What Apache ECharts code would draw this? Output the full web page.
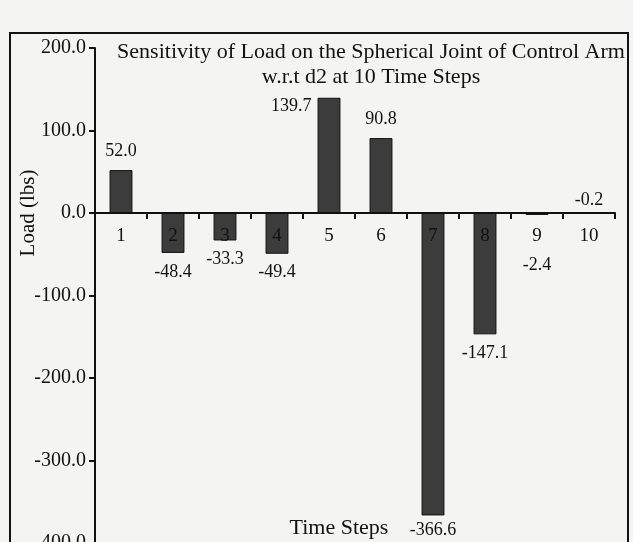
<!DOCTYPE html>
<html>
<head>
<meta charset="utf-8">
<script src="https://cdn.jsdelivr.net/npm/echarts@6/dist/echarts.min.js"></script>
<style>
  html, body { margin: 0; padding: 0; background: #f4f4f2; }
  #container { width: 633px; height: 542px; }
</style>
</head>
<body>
<div id="container"></div>
<script>
var dom = document.getElementById("container");
var myChart = echarts.init(dom);
var option;

var timeSteps = ["1", "2", "3", "4", "5", "6", "7", "8", "9", "10"];
var loadValues = [52.0, -48.4, -33.3, -49.4, 139.7, 90.8, -366.6, -147.1, -2.4, -0.2];
var yTicks = [-400, -300, -200, -100, 0, 100, 200];

var serif = "Liberation Serif";
var gridTop = 48, gridBottomY = 543;
// pixel distance from the bottom of the plot up to the zero line
var zeroOffset = (gridBottomY - gridTop) * (0 - yTicks[0]) / (yTicks[yTicks.length - 1] - yTicks[0]);

// labels sit above positive bars and below negative ones;
// a few are moved out of the way of the title and the category text
var barData = loadValues.map(function (v, i) {
    var lab = { position: v >= 0 ? "top" : "bottom", distance: 10 };
    if (i === 4) { lab.position = [-6, 9]; lab.align = "right"; lab.verticalAlign = "middle"; }
    if (i === 6) lab.distance = 6;
    if (i === 8) lab.distance = 41;
    if (i === 9) { lab.position = "top"; lab.distance = 3; }
    return { value: v, label: lab };
});

option = {
    backgroundColor: "#f4f4f2",
    animation: false,
    title: {
        text: "Sensitivity of Load on the Spherical Joint of Control Arm\nw.r.t d2 at 10 Time Steps",
        left: 366,
        top: 35,
        textAlign: "center",
        textStyle: {
            fontFamily: serif,
            fontSize: 22,
            fontWeight: "normal",
            color: "#111",
            lineHeight: 25,
        },
    },
    grid: {
        left: 95,
        right: 18,
        top: gridTop,
        bottom: 542 - gridBottomY,
        containLabel: false,
        outerBoundsMode: "none",
    },
    xAxis: {
        type: "category",
        data: timeSteps,
        position: "bottom",
        offset: -zeroOffset,
        z: 5,
        axisLine: { onZero: false, lineStyle: { color: "#111", width: 2 } },
        axisTick: { show: true, length: 6, lineStyle: { color: "#111", width: 2 } },
        axisLabel: {
            margin: 14,
            fontFamily: serif,
            fontSize: 19,
            color: "#111",
        },
        splitLine: { show: false },
    },
    yAxis: {
        type: "value",
        min: yTicks[0],
        max: yTicks[yTicks.length - 1],
        interval: 100,
        axisLine: { show: true, lineStyle: { color: "#111", width: 2 } },
        axisTick: { show: true, length: 6, lineStyle: { color: "#111", width: 2 } },
        axisLabel: {
            margin: 9,
            fontFamily: serif,
            fontSize: 20,
            color: "#111",
            formatter: function (v) { return v.toFixed(1); },
        },
        splitLine: { show: false },
    },
    graphic: [
        {
            type: "rect",
            shape: { x: 10, y: 33, width: 618, height: 530 },
            style: { fill: null, stroke: "#111", lineWidth: 2 },
            silent: true,
            z: -1,
        },
        {
            type: "text",
            x: 28,
            y: 213,
            rotation: Math.PI / 2,
            style: {
                text: "Load (lbs)",
                fontFamily: serif,
                fontSize: 21,
                fill: "#111",
                align: "center",
                verticalAlign: "middle",
            },
        },
        {
            type: "text",
            x: 339,
            y: 528,
            style: {
                text: "Time Steps",
                fontFamily: serif,
                fontSize: 22,
                fill: "#111",
                align: "center",
                verticalAlign: "middle",
            },
        },
    ],
    series: [
        {
            name: "Load",
            type: "bar",
            barWidth: "44%",
            data: barData,
            itemStyle: {
                color: "#3c3c3c",
                borderColor: "#111",
                borderWidth: 1,
            },
            label: {
                show: true,
                fontFamily: serif,
                fontSize: 18,
                color: "#111",
                formatter: function (p) { return p.value.toFixed(1); },
            },
        },
    ],
};

if (option && typeof option === "object") {
    myChart.setOption(option);
}
</script>
</body>
</html>
